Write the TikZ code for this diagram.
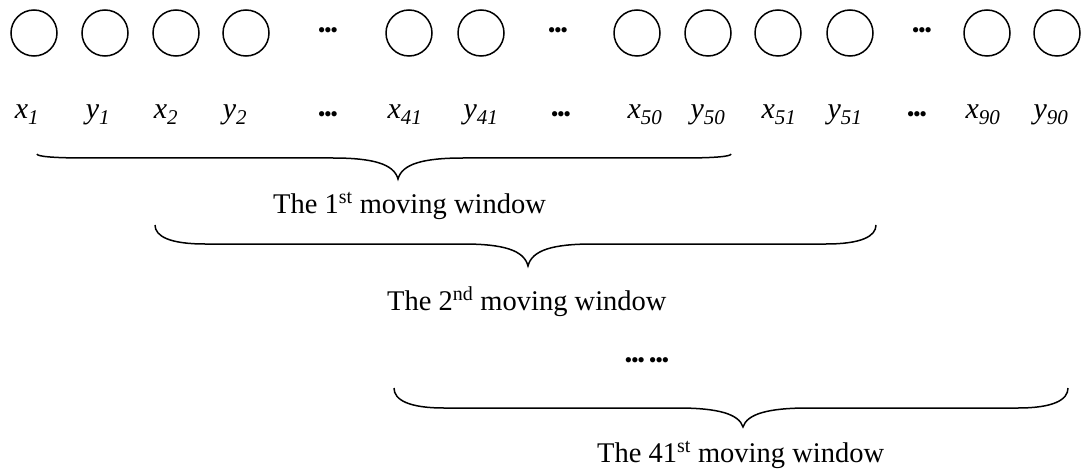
\documentclass[tikz,border=0pt]{standalone}
\usepackage{fontspec}
\setmainfont{Liberation Serif}
\usetikzlibrary{positioning}

\tikzset{
    cell/.style={draw, circle, line width=1.5pt, minimum size=46pt, inner sep=0pt},
    lbl/.style={anchor=base, inner sep=0pt, font=\fontsize{30}{36}\selectfont\itshape},
    gap/.style={anchor=base, inner sep=0pt, font=\fontsize{22}{26}\selectfont},
    wintext/.style={anchor=base west, inner sep=0pt, font=\fontsize{28.5}{34}\selectfont},
    brc/.style={line width=1.5pt},
}

% bold dots
\newcommand{\wdots}{•\kern-1.4pt•\kern-1.4pt•}

% brace: left x, tip x, right x, end y, line y, tip y
\newcommand{\wbrace}[6]{%
    \draw[brc] (#1,#4) .. controls (#1,{#4+0.6*(#5-#4)}) and (#1+15,#5) .. (#1+50,#5)
        -- (#2-65,#5) .. controls (#2-25,#5) and (#2-4,#5+6) .. (#2,#6)
        .. controls (#2+4,#5+6) and (#2+25,#5) .. (#2+65,#5)
        -- (#3-50,#5) .. controls (#3-15,#5) and (#3,{#4+0.6*(#5-#4)}) .. (#3,#4);}

\begin{document}
\begin{tikzpicture}[x=1pt, y=-1pt]
    \useasboundingbox (0,0) rectangle (1087,476);

    % input cells
    \foreach \cx [count=\i] in {34,105,176,246,409,481,637,708,778,850,987,1057}
        \node[cell] (c\i) at (\cx,33) {};
    \node[gap] (d1) at (328,38) {\wdots};
    \node[gap] (d2) at (558,38) {\wdots};
    \node[gap] (d3) at (922,38) {\wdots};

    % labels
    \node[lbl] (l1) at (27,119) {x\textsubscript{1}};
    \node[lbl] (l2) at (98,119) {y\textsubscript{1}};
    \node[lbl] (l3) at (166,119) {x\textsubscript{2}};
    \node[lbl] (l4) at (235,119) {y\textsubscript{2}};
    \node[gap] (ld1) at (328,122) {\wdots};
    \node[lbl] (l5) at (405,119) {x\textsubscript{41}};
    \node[lbl] (l6) at (481,119) {y\textsubscript{41}};
    \node[gap] (ld2) at (561,122) {\wdots};
    \node[lbl] (l7) at (645,119) {x\textsubscript{50}};
    \node[lbl] (l8) at (708,119) {y\textsubscript{50}};
    \node[lbl] (l9) at (779,119) {x\textsubscript{51}};
    \node[lbl] (l10) at (845,119) {y\textsubscript{51}};
    \node[gap] (ld3) at (917,122) {\wdots};
    \node[lbl] (l11) at (983,119) {x\textsubscript{90}};
    \node[lbl] (l12) at (1051,119) {y\textsubscript{90}};

    % windows
    \wbrace{37}{398}{731}{154}{158}{179}
    \node[wintext] (w1) at (273,213) {The 1\textsuperscript{st} moving window};

    \wbrace{155}{528}{876}{225}{244}{266}
    \node[wintext] (w2) at (387,310) {The 2\textsuperscript{nd} moving window};

    \node[gap] (wd) at (647,367) {\wdots\hspace{4pt}\wdots};

    \wbrace{394}{743}{1068}{388}{408}{427}
    \node[wintext] (w41) at (597,462) {The 41\textsuperscript{st} moving window};
\end{tikzpicture}
\end{document}
